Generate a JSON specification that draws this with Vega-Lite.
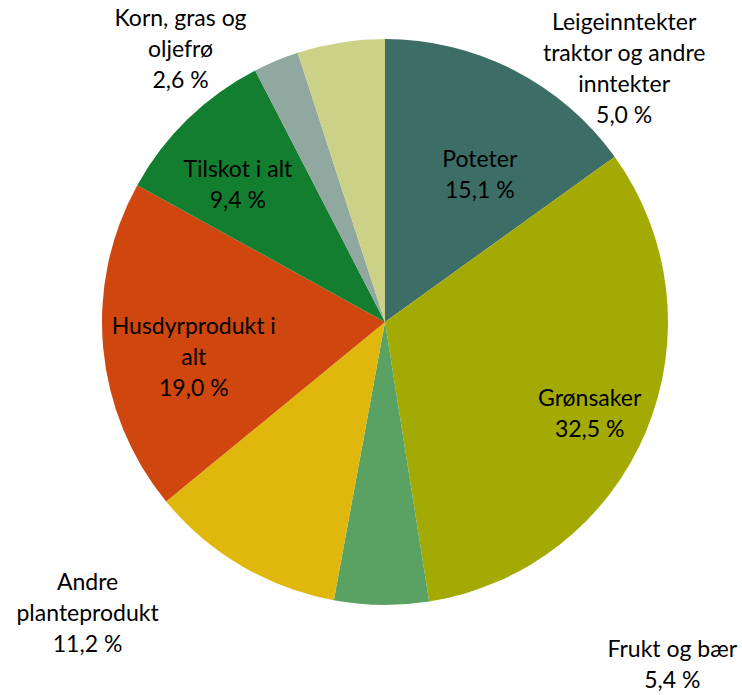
{
  "$schema": "https://vega.github.io/schema/vega-lite/v6.json",
  "width": 714,
  "height": 644,
  "autosize": "none",
  "padding": {"left": 28, "top": 0, "right": 0, "bottom": 51},
  "background": "white",
  "config": {"view": {"stroke": null}},
  "data": {
    "values": [
      {"kategori": "Poteter", "andel": 15.1, "etikett": "Poteter\n15,1 %", "rekkefolge": 1},
      {"kategori": "Grønsaker", "andel": 32.5, "etikett": "Grønsaker\n32,5 %", "rekkefolge": 2},
      {"kategori": "Frukt og bær", "andel": 5.4, "etikett": "Frukt og bær\n5,4 %", "rekkefolge": 3},
      {"kategori": "Andre planteprodukt", "andel": 11.2, "etikett": "Andre\nplanteprodukt\n11,2 %", "rekkefolge": 4},
      {"kategori": "Husdyrprodukt i alt", "andel": 19.0, "etikett": "Husdyrprodukt i\nalt\n19,0 %", "rekkefolge": 5},
      {"kategori": "Tilskot i alt", "andel": 9.4, "etikett": "Tilskot i alt\n9,4 %", "rekkefolge": 6},
      {"kategori": "Korn, gras og oljefrø", "andel": 2.6, "etikett": "Korn, gras og\noljefrø\n2,6 %", "rekkefolge": 7},
      {"kategori": "Leigeinntekter traktor og andre inntekter", "andel": 5.0, "etikett": "Leigeinntekter\ntraktor og andre\ninntekter\n5,0 %", "rekkefolge": 8}
    ]
  },
  "encoding": {
    "theta": {"field": "andel", "type": "quantitative", "stack": true},
    "order": {"field": "rekkefolge", "type": "quantitative"}
  },
  "layer": [
    {
      "mark": {"type": "arc", "radius": 283},
      "encoding": {
        "color": {
          "field": "kategori",
          "type": "nominal",
          "legend": null,
          "scale": {
            "domain": ["Poteter", "Grønsaker", "Frukt og bær", "Andre planteprodukt", "Husdyrprodukt i alt", "Tilskot i alt", "Korn, gras og oljefrø", "Leigeinntekter traktor og andre inntekter"],
            "range": ["#3c6e67", "#a4aa04", "#5aa264", "#e0b70c", "#d0460f", "#137e2f", "#90a89f", "#cbd288"]
          }
        }
      }
    },
    {
      "mark": {"type": "text", "radius": 175, "dx": 15, "dy": -6, "font": "Lato", "fontSize": 23, "lineBreak": "\n", "lineHeight": 31, "align": "center", "baseline": "middle", "color": "#000000"},
      "encoding": {"detail": {"field": "kategori"}, "text": {"condition": {"test": "datum.kategori === 'Poteter'", "field": "etikett"}, "value": ""}}
    },
    {
      "mark": {"type": "text", "radius": 225, "dx": -3, "dy": -10, "font": "Lato", "fontSize": 23, "lineBreak": "\n", "lineHeight": 31, "align": "center", "baseline": "middle", "color": "#000000"},
      "encoding": {"detail": {"field": "kategori"}, "text": {"condition": {"test": "datum.kategori === 'Grønsaker'", "field": "etikett"}, "value": ""}}
    },
    {
      "mark": {"type": "text", "radius": 300, "dx": 291, "dy": 28, "font": "Lato", "fontSize": 23, "lineBreak": "\n", "lineHeight": 31, "align": "center", "baseline": "middle", "color": "#000000"},
      "encoding": {"detail": {"field": "kategori"}, "text": {"condition": {"test": "datum.kategori === 'Frukt og bær'", "field": "etikett"}, "value": ""}}
    },
    {
      "mark": {"type": "text", "radius": 300, "dx": -145, "dy": 3, "font": "Lato", "fontSize": 23, "lineBreak": "\n", "lineHeight": 31, "align": "center", "baseline": "middle", "color": "#000000"},
      "encoding": {"detail": {"field": "kategori"}, "text": {"condition": {"test": "datum.kategori === 'Andre planteprodukt'", "field": "etikett"}, "value": ""}}
    },
    {
      "mark": {"type": "text", "radius": 194, "dx": 2, "dy": -13, "font": "Lato", "fontSize": 23, "lineBreak": "\n", "lineHeight": 31, "align": "center", "baseline": "middle", "color": "#000000"},
      "encoding": {"detail": {"field": "kategori"}, "text": {"condition": {"test": "datum.kategori === 'Husdyrprodukt i alt'", "field": "etikett"}, "value": ""}}
    },
    {
      "mark": {"type": "text", "radius": 201, "dx": -7, "dy": -8, "font": "Lato", "fontSize": 23, "lineBreak": "\n", "lineHeight": 31, "align": "center", "baseline": "middle", "color": "#000000"},
      "encoding": {"detail": {"field": "kategori"}, "text": {"condition": {"test": "datum.kategori === 'Tilskot i alt'", "field": "etikett"}, "value": ""}}
    },
    {
      "mark": {"type": "text", "radius": 300, "dx": -89, "dy": -26, "font": "Lato", "fontSize": 23, "lineBreak": "\n", "lineHeight": 31, "align": "center", "baseline": "middle", "color": "#000000"},
      "encoding": {"detail": {"field": "kategori"}, "text": {"condition": {"test": "datum.kategori === 'Korn, gras og oljefrø'", "field": "etikett"}, "value": ""}}
    },
    {
      "mark": {"type": "text", "radius": 300, "dx": 286, "dy": -3, "font": "Lato", "fontSize": 23, "lineBreak": "\n", "lineHeight": 31, "align": "center", "baseline": "middle", "color": "#000000"},
      "encoding": {"detail": {"field": "kategori"}, "text": {"condition": {"test": "datum.kategori === 'Leigeinntekter traktor og andre inntekter'", "field": "etikett"}, "value": ""}}
    }
  ]
}
